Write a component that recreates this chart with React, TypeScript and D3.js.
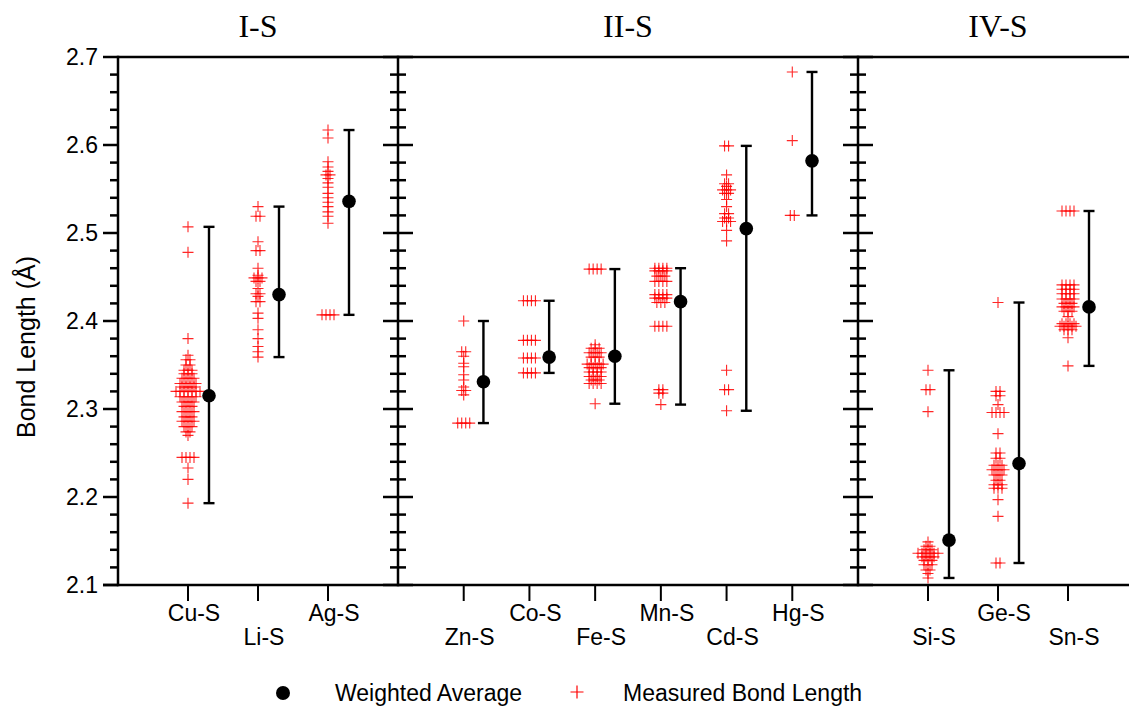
import React from 'react';
import * as d3 from 'd3';

// ---------- DATA ----------
const panelTitles = ['I-S', 'II-S', 'IV-S'];
const panelCategories = [
  ['Cu-S', 'Li-S', 'Ag-S'],
  ['Zn-S', 'Co-S', 'Fe-S', 'Mn-S', 'Cd-S', 'Hg-S'],
  ['Si-S', 'Ge-S', 'Sn-S'],
];
// 0 = upper label row, 1 = lower label row
const labelRows = [
  [0, 1, 0],
  [1, 0, 1, 0, 1, 0],
  [1, 0, 1],
];
const weightedAverages = [
  [2.315, 2.43, 2.536],
  [2.331, 2.359, 2.36, 2.422, 2.505, 2.582],
  [2.151, 2.238, 2.416],
];
const yTickValues = [2.1, 2.2, 2.3, 2.4, 2.5, 2.6, 2.7];

// measured bond lengths as [value, number of structures with that value]
const cuS = [
  [2.507, 1], [2.478, 1], [2.38, 1], [2.361, 1], [2.356, 2], [2.35, 2], [2.344, 3], [2.34, 3],
  [2.335, 4], [2.329, 5], [2.325, 4], [2.32, 7], [2.314, 5], [2.308, 4], [2.303, 3], [2.297, 4],
  [2.291, 3], [2.286, 4], [2.28, 3], [2.274, 2], [2.27, 1], [2.245, 4], [2.233, 1], [2.22, 1], [2.193, 1],
];
const liS = [
  [2.53, 1], [2.519, 2], [2.49, 1], [2.48, 2], [2.46, 1], [2.452, 1], [2.449, 3], [2.445, 2],
  [2.437, 1], [2.431, 2], [2.428, 1], [2.422, 2], [2.409, 1], [2.403, 1], [2.39, 1], [2.38, 1],
  [2.371, 1], [2.365, 1], [2.359, 1],
];
const agS = [
  [2.617, 1], [2.608, 1], [2.581, 1], [2.575, 1], [2.57, 1], [2.566, 2], [2.562, 1], [2.557, 1],
  [2.552, 1], [2.545, 1], [2.54, 1], [2.535, 1], [2.53, 1], [2.524, 1], [2.519, 1], [2.511, 1], [2.407, 4],
];
const znS = [
  [2.4, 1], [2.365, 2], [2.36, 1], [2.352, 1], [2.348, 1], [2.339, 1], [2.333, 1], [2.325, 1],
  [2.321, 2], [2.316, 1], [2.284, 4],
];
const coS = [[2.423, 4], [2.378, 4], [2.358, 4], [2.341, 4]];
const feS = [
  [2.459, 4], [2.373, 1], [2.369, 3], [2.364, 4], [2.359, 3], [2.351, 5], [2.347, 4], [2.342, 4],
  [2.337, 4], [2.333, 3], [2.329, 4], [2.306, 1],
];
const mnS = [
  [2.46, 4], [2.457, 4], [2.451, 3], [2.445, 4], [2.43, 4], [2.426, 4], [2.421, 3], [2.394, 4],
  [2.322, 2], [2.318, 2], [2.305, 1],
];
const cdS = [
  [2.599, 2], [2.566, 1], [2.556, 2], [2.553, 1], [2.549, 3], [2.545, 2], [2.538, 1], [2.53, 1],
  [2.522, 2], [2.517, 2], [2.513, 3], [2.503, 1], [2.491, 1], [2.344, 1], [2.322, 2], [2.298, 1],
];
const hgS = [[2.683, 1], [2.605, 1], [2.52, 2]];
const siS = [
  [2.344, 1], [2.322, 2], [2.297, 1], [2.149, 1], [2.144, 2], [2.14, 3], [2.136, 6], [2.132, 4],
  [2.128, 3], [2.123, 3], [2.117, 2], [2.113, 1], [2.108, 1],
];
const geS = [
  [2.421, 1], [2.32, 2], [2.315, 2], [2.305, 1], [2.296, 4], [2.272, 1], [2.25, 2], [2.244, 2],
  [2.236, 3], [2.231, 4], [2.225, 3], [2.219, 2], [2.214, 3], [2.21, 3], [2.197, 1], [2.178, 1], [2.125, 2],
];
const snS = [
  [2.525, 4], [2.441, 4], [2.436, 4], [2.431, 4], [2.425, 4], [2.42, 3], [2.416, 4], [2.411, 3],
  [2.405, 1], [2.397, 4], [2.394, 5], [2.39, 3], [2.381, 1], [2.349, 1],
];
const measured = [
  [cuS, liS, agS],
  [znS, coS, feS, mnS, cdS, hgS],
  [siS, geS, snS],
];

// ---------- LAYOUT ----------
const W = 1129;
const H = 711;
const top = 57;
const bottom = 585;
const panelEdges = [118, 398, 858, 1138];
const AX = '#000';
const RED = '#ff0000';
const SANS = '"Liberation Sans", Arial, sans-serif';
const SERIF = '"Liberation Serif", "Times New Roman", serif';

export default function App() {
  const y = d3.scaleLinear().domain([2.1, 2.7]).range([bottom, top]);
  const minor = d3.range(0, 31).map((i) => 2.1 + i * 0.02).filter((v, i) => i % 5 !== 0);
  const crossPath = 'M-5.5,0H5.5M0,-5.5V5.5';
  const dx = 4;

  const panels = panelCategories.map((cats, p) => {
    const x = d3.scaleLinear().domain([0, cats.length + 1]).range([panelEdges[p], panelEdges[p + 1]]);
    const step = x(1) - x(0);
    return { cats, x, step, p };
  });

  return (
    <svg width={W} height={H} style={{ position: 'absolute', left: 0, top: 0, background: '#fff' }}>
      {/* panel titles */}
      {panels.map(({ x, cats, p }) => (
        <text key={'t' + p} x={(x(0) + x(cats.length + 1)) / 2} y={37} textAnchor="middle"
          fontFamily={SERIF} fontSize={32} fill="#000">{panelTitles[p]}</text>
      ))}

      {/* data */}
      {panels.map(({ cats, x, step, p }) =>
        cats.map((c, i) => {
          const cx = x(i + 1);
          const groups = measured[p][i];
          const vals = groups.map((g) => g[0]);
          const lo = d3.min(vals) as number;
          const hi = d3.max(vals) as number;
          const ax = cx + step * 0.3;
          const avg = weightedAverages[p][i];
          return (
            <g key={c}>
              {groups.map(([v, n], gi) =>
                d3.range(n).map((k) => (
                  <path key={gi + '-' + k} d={crossPath}
                    transform={`translate(${cx + (k - (n - 1) / 2) * dx},${y(v)})`}
                    stroke={RED} strokeWidth={1.1} fill="none" opacity={0.85} />
                ))
              )}
              <line x1={ax} x2={ax} y1={y(hi)} y2={y(lo)} stroke={AX} strokeWidth={2.4} />
              <line x1={ax - 5.5} x2={ax + 5.5} y1={y(hi)} y2={y(hi)} stroke={AX} strokeWidth={2.4} />
              <line x1={ax - 5.5} x2={ax + 5.5} y1={y(lo)} y2={y(lo)} stroke={AX} strokeWidth={2.4} />
              <circle cx={ax} cy={y(avg)} r={6.8} fill="#000" />
            </g>
          );
        })
      )}

      {/* frame */}
      <line x1={panelEdges[0]} x2={W} y1={top} y2={top} stroke={AX} strokeWidth={2.5} />
      <line x1={panelEdges[0] - 15} x2={W} y1={bottom} y2={bottom} stroke={AX} strokeWidth={2.5} />
      {panelEdges.slice(0, 3).map((ex, k) => (
        <g key={'ax' + k}>
          <line x1={ex} x2={ex} y1={top - 1.25} y2={bottom + 1.25} stroke={AX} strokeWidth={2.5} />
          {yTickValues.map((v) => (
            <line key={'M' + v} x1={ex - 15} x2={k === 0 ? ex : ex + 15} y1={y(v)} y2={y(v)} stroke={AX} strokeWidth={2.5} />
          ))}
          {minor.map((v) => (
            <line key={'m' + v} x1={ex - 8} x2={k === 0 ? ex : ex + 8} y1={y(v)} y2={y(v)} stroke={AX} strokeWidth={2.5} />
          ))}
        </g>
      ))}

      {/* y tick labels */}
      {yTickValues.map((v) => (
        <text key={'yl' + v} x={98} y={y(v) + 8} textAnchor="end" fontFamily={SANS} fontSize={23} fill="#000">
          {v.toFixed(1)}
        </text>
      ))}
      <text transform={`translate(35,${(top + bottom) / 2 + 26}) rotate(-90)`} textAnchor="middle"
        fontFamily={SANS} fontSize={25} fill="#000">Bond Length (Å)</text>

      {/* x ticks and labels */}
      {panels.map(({ cats, x, p }) =>
        cats.map((c, i) => {
          const cx = x(i + 1);
          const row = labelRows[p][i];
          return (
            <g key={'x' + c}>
              <line x1={cx} x2={cx} y1={bottom} y2={bottom + 16} stroke={AX} strokeWidth={2} />
              <text x={cx + 6} y={row === 0 ? 621 : 645} textAnchor="middle" fontFamily={SANS} fontSize={23} fill="#000">{c}</text>
            </g>
          );
        })
      )}

      {/* legend */}
      <circle cx={283} cy={693} r={7} fill="#000" />
      <text x={335} y={701} fontFamily={SANS} fontSize={23} fill="#000">Weighted Average</text>
      <path d="M-6.5,0H6.5M0,-6.5V6.5" transform="translate(577,692)" stroke={RED} strokeWidth={1.2} fill="none" />
      <text x={623} y={701} fontFamily={SANS} fontSize={23} fill="#000">Measured Bond Length</text>
    </svg>
  );
}
